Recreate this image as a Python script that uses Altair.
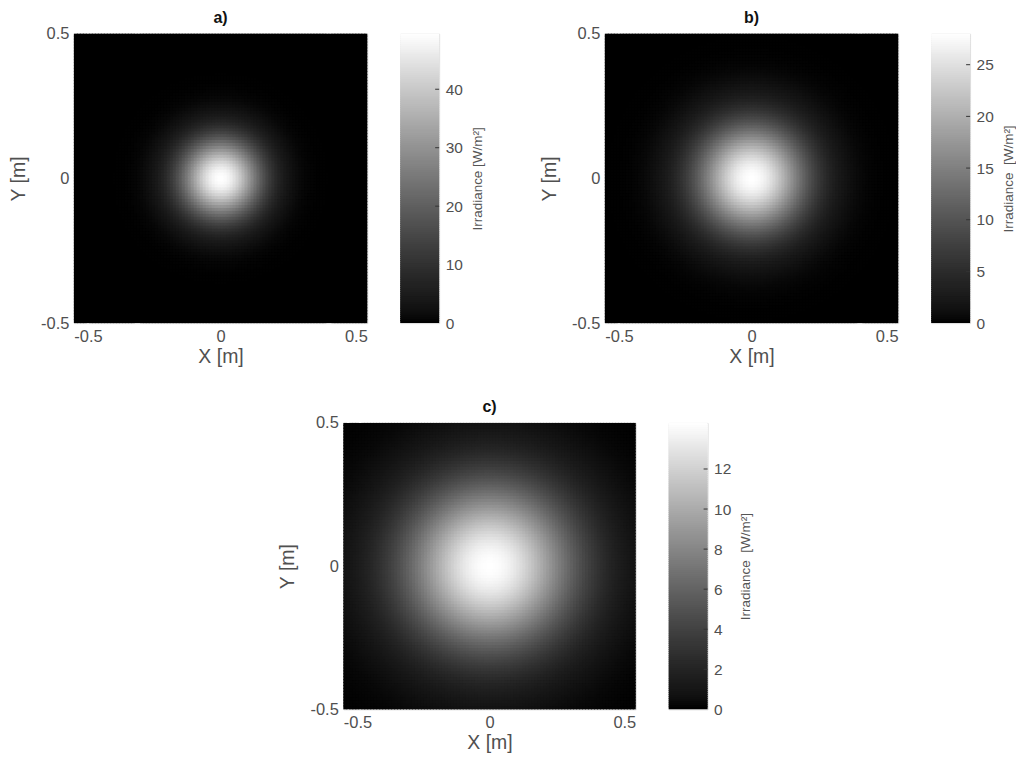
import numpy as np
import pandas as pd
import altair as alt

# ---- values ----
panel_titles = ["a)", "b)", "c)"]
peak_irradiance = [49.5, 28.0, 14.3]      # W/m^2, top of each colour bar
beam_sigma = [0.100, 0.135, 0.210]        # m, Gaussian beam width
legend_ticks = [
    [0, 10, 20, 30, 40],
    [0, 5, 10, 15, 20, 25],
    [0, 2, 4, 6, 8, 10, 12],
]
legend_titles = ["Irradiance [W/m²]", "Irradiance \u00a0[W/m²]", "Irradiance \u00a0[W/m²]"]
axis_ticks = [-0.5, 0, 0.5]
n_cells = 98
n_bar_steps = 140

FONT = "Liberation Sans"
LABEL = "#505050"
edges = np.linspace(-0.5, 0.5, n_cells + 1)
centers = (edges[:-1] + edges[1:]) / 2
cell = edges[1] - edges[0]
MINUS_FIX = "replace(datum.label, '\u2212', '-')"


def gray_scale(i):
    return alt.Scale(domain=[0, peak_irradiance[i]], range=["#000000", "#ffffff"],
                     nice=False, zero=False)


def heatmap(i, w, h):
    X, Y = np.meshgrid(centers, centers)
    Z = peak_irradiance[i] * np.exp(-(X**2 + Y**2) / (2 * beam_sigma[i] ** 2))
    x0, y0 = np.meshgrid(edges[:-1], edges[:-1])
    # slight overlap between neighbouring cells hides anti-aliasing seams
    x1 = np.minimum(x0 + cell * 1.35, 0.5)
    y1 = np.minimum(y0 + cell * 1.35, 0.5)
    df = pd.DataFrame({
        "x0": x0.ravel(), "x1": x1.ravel(),
        "y0": y0.ravel(), "y1": y1.ravel(),
        "I": Z.ravel(),
    })
    ax = dict(values=axis_ticks, ticks=False, grid=False, domain=False,
              labelFont=FONT, labelFontSize=16.5, labelColor=LABEL,
              titleFont=FONT, titleFontSize=19.5, titleFontWeight="normal",
              titleColor=LABEL, format="~g", labelExpr=MINUS_FIX)
    return (
        alt.Chart(df, title=alt.Title(panel_titles[i], fontSize=16, font=FONT,
                                      fontWeight="bold", color="#111111", offset=0))
        .mark_rect(strokeWidth=0)
        .encode(
            x=alt.X("x0:Q", scale=alt.Scale(domain=[-0.5, 0.5], nice=False),
                    axis=alt.Axis(title="X [m]", titlePadding=3, labelPadding=5, **ax)),
            x2="x1",
            y=alt.Y("y0:Q", scale=alt.Scale(domain=[-0.5, 0.5], nice=False),
                    axis=alt.Axis(title="Y [m]", titlePadding=12, labelPadding=5, **ax)),
            y2="y1",
            color=alt.Color("I:Q", scale=gray_scale(i), legend=None),
        )
        .properties(width=w, height=h)
    )


def colorbar(i, h):
    steps = np.linspace(0, peak_irradiance[i], n_bar_steps + 1)
    step = steps[1] - steps[0]
    df = pd.DataFrame({"v0": steps[:-1],
                       "v1": np.minimum(steps[:-1] + step * 1.5, peak_irradiance[i]),
                       "v": (steps[:-1] + steps[1:]) / 2})
    yscale = alt.Scale(domain=[0, peak_irradiance[i]], nice=False, zero=False)
    bar = (
        alt.Chart(df)
        .mark_rect(strokeWidth=0)
        .encode(
            x=alt.value(0), x2=alt.value(39),
            y=alt.Y("v0:Q", scale=yscale,
                    axis=alt.Axis(orient="right", values=legend_ticks[i], ticks=False,
                                  domain=False, grid=False, labelPadding=6,
                                  labelFont=FONT, labelFontSize=15.5, labelColor=LABEL,
                                  title=legend_titles[i], titleAngle=270,
                                  titleFont=FONT, titleFontSize=13.5, titleFontWeight="normal",
                                  titleColor="#555555", titlePadding=8,
                                  titleBaseline="top")),
            y2="v1",
            color=alt.Color("v:Q", scale=gray_scale(i), legend=None),
        )
    )
    ticks_df = pd.DataFrame({"t": [t for t in legend_ticks[i] if t > 0]})
    ticks = (
        alt.Chart(ticks_df)
        .mark_rule(color="#333333", strokeWidth=1)
        .encode(y=alt.Y("t:Q", scale=yscale), x=alt.value(35), x2=alt.value(39))
    )
    return alt.layer(bar, ticks).properties(width=39, height=h)


def panel(i, w=294, h=290):
    return alt.hconcat(heatmap(i, w, h), colorbar(i, h), spacing=31).resolve_scale(
        color="independent")


spacer = (
    alt.Chart(pd.DataFrame({"s": [0]}))
    .mark_point(opacity=0)
    .encode(x=alt.X("s:Q", axis=None), y=alt.Y("s:Q", axis=None))
    .properties(width=204, height=20, view=alt.ViewBackground(strokeOpacity=0))
)

top = alt.hconcat(panel(0), panel(1), spacing=54).resolve_scale(color="independent")
bottom = alt.hconcat(spacer, panel(2, 293, 287), spacing=0).resolve_scale(color="independent")
chart = (
    alt.vconcat(top, bottom, spacing=31)
    .resolve_scale(color="independent")
    .configure_view(stroke="#9a9a9a", strokeWidth=1)
    .configure(background="white", padding=0)
)

chart.save("out.html", embed_options={"renderer": "svg", "actions": False})
